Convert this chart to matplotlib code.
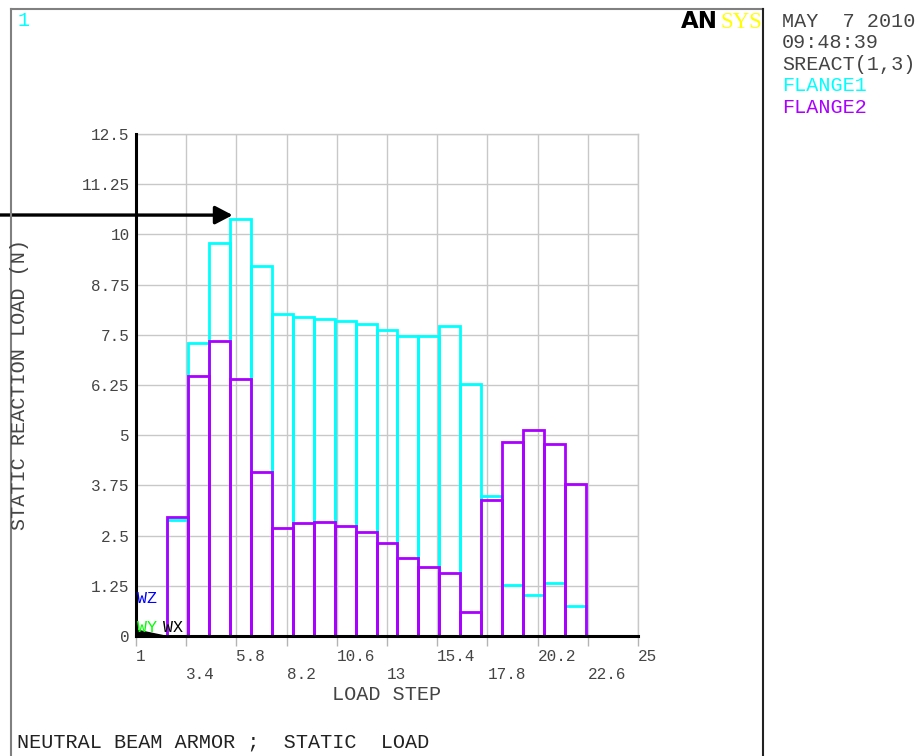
import numpy as np
import matplotlib
matplotlib.use('Agg')
import matplotlib.pyplot as plt
from matplotlib.lines import Line2D

load_steps = [3, 4, 5, 6, 7, 8, 9, 10, 11, 12, 13, 14, 15, 16, 17, 18, 19, 20, 21, 22]
flange1 = [2.88, 7.30, 9.78, 10.39, 9.21, 8.01, 7.95, 7.89, 7.84, 7.78,
           7.62, 7.48, 7.48, 7.73, 6.28, 3.48, 1.28, 1.03, 1.31, 0.74]
flange2 = [2.96, 6.47, 7.34, 6.39, 4.09, 2.69, 2.82, 2.83, 2.75, 2.60,
           2.31, 1.93, 1.72, 1.58, 0.60, 3.38, 4.82, 5.14, 4.78, 3.78]

x_ticks = [1, 3.4, 5.8, 8.2, 10.6, 13, 15.4, 17.8, 20.2, 22.6, 25]
x_tick_labels = ['1', '3.4', '5.8', '8.2', '10.6', '13', '15.4', '17.8', '20.2', '22.6', '25']
y_ticks = [0, 1.25, 2.5, 3.75, 5, 6.25, 7.5, 8.75, 10, 11.25, 12.5]
y_tick_labels = ['0', '1.25', '2.5', '3.75', '5', '6.25', '7.5', '8.75', '10', '11.25', '12.5']

CYAN = '#00ffff'
MAGENTA = '#aa00ff'
TXT = '#444444'
FONT = 'Liberation Mono'
W, H = 920, 756

plt.rcParams['font.family'] = [FONT, 'DejaVu Sans']

fig = plt.figure(figsize=(W / 100, H / 100), dpi=100)
ax = fig.add_axes([136 / W, 1 - 636 / H, 502 / W, 502 / H])


def px(x, y):
    # converte pixel (origem no topo) para fracao da figura
    return x / W, 1 - y / H


# barras so com contorno, flange1 por baixo
ax.bar(load_steps, flange1, width=1.0, fill=False, edgecolor=CYAN, linewidth=2.0, zorder=3)
ax.bar(load_steps, flange2, width=1.0, fill=False, edgecolor=MAGENTA, linewidth=2.0, zorder=4)

ax.set_xlim(1, 25)
ax.set_ylim(0, 12.5)
ax.set_xticks(x_ticks)
ax.set_xticklabels([lab if i % 2 == 0 else '\n' + lab for i, lab in enumerate(x_tick_labels)],
                   fontsize=11.5, color=TXT, linespacing=1.25)
for lab in ax.get_xticklabels():
    lab.set_horizontalalignment('left')
ax.set_yticks(y_ticks)
ax.set_yticklabels(y_tick_labels, fontsize=11.5, color=TXT)
ax.tick_params(axis='x', length=7.5, width=1, color='#b4b4b4', pad=2)
ax.tick_params(axis='y', length=0, pad=4.5)

ax.grid(True, color='#c8c8c8', linewidth=1.0, zorder=0)
ax.set_axisbelow(True)
for side in ['top', 'right']:
    ax.spines[side].set_visible(False)
for side in ['left', 'bottom']:
    ax.spines[side].set_color('black')
    ax.spines[side].set_linewidth(2.2)
    ax.spines[side].set_zorder(6)
# linhas de grade nas bordas superior e direita
ax.axhline(12.5, color='#c8c8c8', linewidth=1.0, zorder=0, clip_on=False)
ax.axvline(25, color='#c8c8c8', linewidth=1.0, zorder=0, clip_on=False)

# triade dos eixos perto da origem
ax.plot([1, 1], [0, 0.73], color='blue', linewidth=1.2, zorder=5, clip_on=False)
ax.fill([1, 1, 2.38], [0, 0.15, 0], color='black', zorder=5, clip_on=False)
ax.text(1.03, 0.93, 'WZ', color='blue', fontsize=12, va='center', ha='left', zorder=7)
ax.text(1.03, 0.21, 'WY', color='#00ff00', fontsize=12, va='center', ha='left', zorder=7)
ax.text(2.3, 0.21, 'WX', color='black', fontsize=12, va='center', ha='left', zorder=7)

# seta preta apontando para o pico
ax.annotate('', xy=(5.62, 10.48), xycoords='data',
            xytext=(0, H - 215), textcoords='figure pixels',
            arrowprops=dict(arrowstyle='-|>,head_length=1.05,head_width=0.55',
                            mutation_scale=10, color='black', lw=2.4,
                            shrinkA=0, shrinkB=0),
            annotation_clip=False, zorder=8)

# rotulos dos eixos
fig.text(*px(20, 385), 'STATIC REACTION LOAD (N)', rotation=90, fontsize=14.5,
         color=TXT, ha='center', va='center')
fig.text(*px(387, 700), 'LOAD STEP', fontsize=14.5, color=TXT, ha='center', va='baseline')
fig.text(*px(17, 748), 'NEUTRAL BEAM ARMOR ;  STATIC  LOAD', fontsize=14.5,
         color='#222222', ha='left', va='baseline')
fig.text(*px(18, 26), '1', fontsize=14.5, color=CYAN, ha='left', va='baseline')

# bloco de informacoes a direita
info = [('MAY  7 2010', TXT), ('09:48:39', TXT), ('SREACT(1,3)', TXT),
        ('FLANGE1', CYAN), ('FLANGE2', MAGENTA)]
for i, (txt, col) in enumerate(info):
    fig.text(*px(782, 27 + i * 21.4), txt, fontsize=14.5, color=col, ha='left', va='baseline')

# logo ANSYS
fig.text(*px(718, 28), 'AN', fontsize=16.5, fontweight='bold', family='DejaVu Sans',
         color='black', ha='right', va='baseline')
fig.text(*px(762, 28), 'SYS', fontsize=16.5, family='Liberation Serif',
         color='#ffff00', ha='right', va='baseline')

# moldura da janela
fig.add_artist(Line2D([11 / W, 11 / W], [0, 1 - 9 / H], transform=fig.transFigure,
                      color='#808080', linewidth=1.5))
fig.add_artist(Line2D([11 / W, 763 / W], [1 - 9 / H, 1 - 9 / H], transform=fig.transFigure,
                      color='#808080', linewidth=1.5))
fig.add_artist(Line2D([763 / W, 763 / W], [0, 1 - 9 / H], transform=fig.transFigure,
                      color='#222222', linewidth=1.5))

fig.savefig('out.png', dpi=100)
